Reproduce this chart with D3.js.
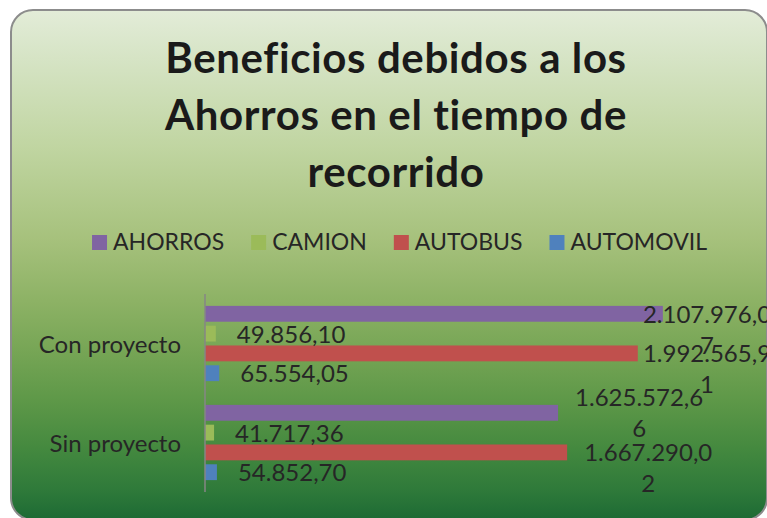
<!DOCTYPE html>
<html>
<head>
<meta charset="utf-8">
<script src="https://cdn.jsdelivr.net/npm/d3@7"></script>
<style>
  html, body { margin: 0; padding: 0; background: #ffffff; }
  svg { display: block; }
  text { font-variant-ligatures: none; font-feature-settings: "liga" 0; }
</style>
</head>
<body>
<div id="chart"></div>
<script>
// ---- data ----
const titleLines = ["Beneficios debidos a los", "Ahorros en el tiempo de", "recorrido"];
const categories = ["Con proyecto", "Sin proyecto"];
const series = ["AHORROS", "CAMION", "AUTOBUS", "AUTOMOVIL"];
const conProyecto = [2107976.07, 49856.10, 1992565.91, 65554.05];
const sinProyecto = [1625572.66, 41717.36, 1667290.02, 54852.70];
const seriesColors = ["#8064a2", "#9bbb59", "#c0504d", "#4f81bd"];
const xMax = 2500000;

// ---- layout / style ----
const W = 767, H = 518;
const FONT = "Lato, 'Open Sans', sans-serif";
const textColor = "#262626";
const labelSize = 24;
const legendSize = 23;
const plot = { left: 205, right: 748, top: 294, bottom: 492 };
// label vertical mode per category / series ("mid" = two-line box centred on bar)
const labelMode = [["top", "top", "top", "top"], ["mid", "top", "top", "top"]];

const rows = categories.map((c, i) => ({ cat: c, values: [conProyecto, sinProyecto][i] }));

const svg = d3.select("#chart").append("svg").attr("width", W).attr("height", H);

// background gradient
const defs = svg.append("defs");
const grad = defs.append("linearGradient").attr("id", "bg")
  .attr("gradientUnits", "userSpaceOnUse").attr("x1", 0).attr("x2", 0).attr("y1", 10).attr("y2", 520);
[[0, "#e3ecd8"], [0.07, "#d9e6ca"], [0.27, "#c0d5a1"], [0.45, "#a6c17c"], [0.57, "#8db265"],
 [0.67, "#76a555"], [0.765, "#5e9848"], [0.86, "#44893f"], [0.94, "#2f7a3a"], [1, "#1d6a34"]]
  .forEach(([o, c]) => grad.append("stop").attr("offset", o).attr("stop-color", c));

svg.append("rect").attr("x", 11).attr("y", 10).attr("width", 756).attr("height", 510)
  .attr("rx", 22).attr("ry", 22)
  .attr("fill", "url(#bg)").attr("stroke", "#8c8c8c").attr("stroke-width", 2);

// title
svg.append("g").selectAll("text").data(titleLines).join("text")
  .attr("x", 396).attr("y", (d, i) => 73 + i * 57)
  .attr("text-anchor", "middle")
  .attr("font-family", FONT).attr("font-weight", "bold").attr("font-size", 42)
  .attr("letter-spacing", 0.6)
  .attr("fill", "#1a1a1a").text(d => d);

// legend
const legend = svg.append("g");
const items = legend.selectAll("g").data(series).join("g");
items.append("rect").attr("width", 15).attr("height", 15).attr("y", 235)
  .attr("fill", (d, i) => seriesColors[i]);
items.append("text").attr("y", 250).attr("x", 21)
  .attr("font-family", FONT).attr("font-size", legendSize).attr("fill", textColor).text(d => d);
const widths = [];
items.each(function () { widths.push(d3.select(this).select("text").node().getComputedTextLength()); });
const gapItem = 27;
const total = widths.reduce((a, w) => a + 21 + w, 0) + gapItem * (widths.length - 1);
let lx = 399.5 - total / 2;
items.each(function (d, i) {
  d3.select(this).attr("transform", `translate(${lx},0)`);
  lx += 21 + widths[i] + gapItem;
});

// scales
const x = d3.scaleLinear().domain([0, xMax]).range([plot.left, plot.right]);
const y0 = d3.scaleBand().domain(categories).range([plot.top, plot.bottom]).paddingInner(0).paddingOuter(0);
const y1 = d3.scaleBand().domain(series).range([0, y0.bandwidth()]).paddingInner(0.2).paddingOuter(0.6);

const locale = d3.formatLocale({ decimal: ",", thousands: ".", grouping: [3], currency: ["", ""] });
const fmt = locale.format(",.2f");

// bars
const groups = svg.append("g").selectAll("g").data(rows).join("g")
  .attr("transform", d => `translate(0,${y0(d.cat)})`);
groups.selectAll("rect").data(d => d.values.map((v, i) => ({ s: series[i], v, i }))).join("rect")
  .attr("x", x(0)).attr("y", d => y1(d.s))
  .attr("width", d => x(d.v) - x(0)).attr("height", y1.bandwidth())
  .attr("fill", d => seriesColors[d.i]);

// category labels
svg.append("g").selectAll("text").data(categories).join("text")
  .attr("x", 181).attr("y", d => y0(d) + y0.bandwidth() / 2 + 9)
  .attr("text-anchor", "end")
  .attr("font-family", FONT).attr("font-size", labelSize).attr("fill", textColor).text(d => d);

// axis line
svg.append("line").attr("x1", plot.left).attr("x2", plot.left)
  .attr("y1", plot.top).attr("y2", plot.bottom)
  .attr("stroke", "#868686").attr("stroke-width", 1.5);

// data labels
const lineH = 31;
groups.each(function (row, ci) {
  const g = d3.select(this);
  row.values.forEach((v, i) => {
    const s = fmt(v);
    const lines = s.length > 11 ? [s.slice(0, 11), s.slice(11)] : [s];
    const cy = y1(series[i]) + y1.bandwidth() / 2;
    const t = g.append("text")
      .attr("font-family", FONT).attr("font-size", labelSize).attr("fill", textColor);
    if (lines.length === 1) {
      t.attr("x", x(v) + 21).attr("y", cy + 9).text(s);
    } else {
      t.text(lines[0]);
      const w = t.node().getComputedTextLength();
      t.text(null);
      const cx = Math.min(x(v) + 17 + w / 2, 707);
      const base = labelMode[ci][i] === "mid" ? cy - 7 : cy + 9;
      t.attr("text-anchor", "middle");
      lines.forEach((ln, k) => t.append("tspan").attr("x", cx).attr("y", base + k * lineH).text(ln));
    }
  });
});
</script>
</body>
</html>
